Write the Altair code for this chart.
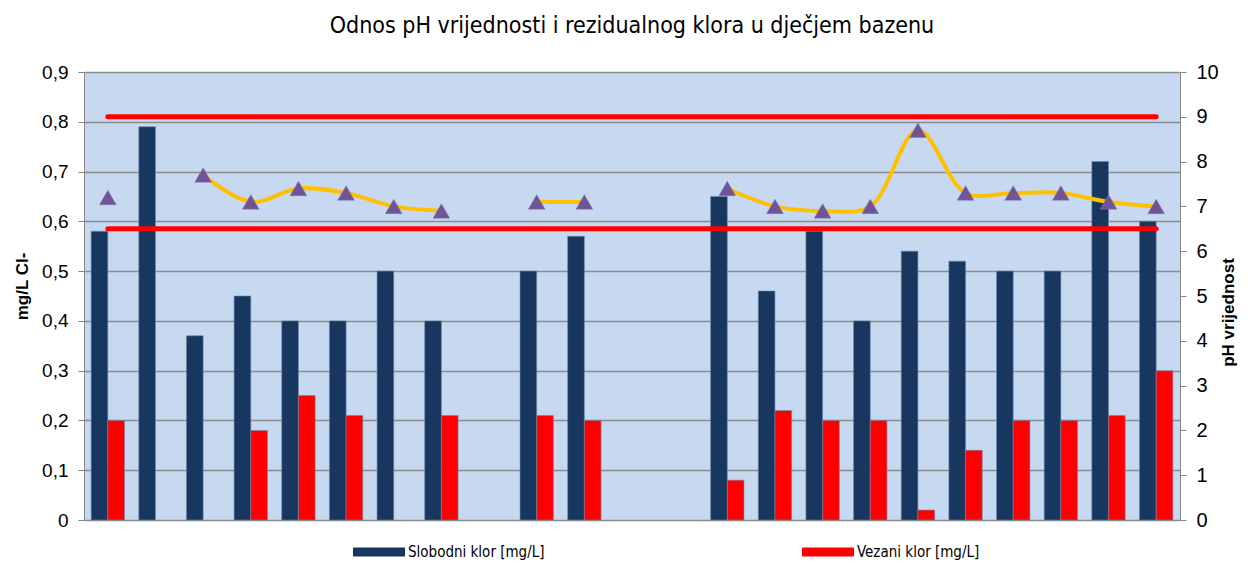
import altair as alt
import pandas as pd

# ---- data ----
categories = [str(i) for i in range(1, 24)]
slobodni = [0.58, 0.79, 0.37, 0.45, 0.40, 0.40, 0.50, 0.40, None, 0.50, 0.57, None, None,
            0.65, 0.46, 0.58, 0.40, 0.54, 0.52, 0.50, 0.50, 0.72, 0.60]
vezani = [0.20, None, None, 0.18, 0.25, 0.21, None, 0.21, None, 0.21, 0.20, None, None,
          0.08, 0.22, 0.20, 0.20, 0.02, 0.14, 0.20, 0.20, 0.21, 0.30]
ph = [7.2, None, 7.7, 7.1, 7.4, 7.3, 7.0, 6.9, None, 7.1, 7.1, None, None,
      7.4, 7.0, 6.9, 7.0, 8.7, 7.3, 7.3, 7.3, 7.1, 7.0]
ph_limits = [6.5, 9.0]

series_names = ["Slobodni klor [mg/L]", "Vezani klor [mg/L]"]
series_colors = ["#17375E", "#FF0000"]

# ---- tables ----
bar_rows = []
for c, s, v in zip(categories, slobodni, vezani):
    if s is not None:
        bar_rows.append({"Cat": c, "Serija": series_names[0], "Vrijednost": s})
    if v is not None:
        bar_rows.append({"Cat": c, "Serija": series_names[1], "Vrijednost": v})
bars_df = pd.DataFrame(bar_rows)

ph_df = pd.DataFrame({"Cat": categories, "pH": ph})
ph_df["seg"] = ph_df["pH"].isna().cumsum()
ph_df = ph_df.dropna(subset=["pH"])

lim_df = pd.DataFrame([{"Cat": c, "lim": str(l), "pH": l} for l in ph_limits for c in categories])

FONT = "DejaVu Sans Condensed, Liberation Sans Narrow, Arial Narrow, sans-serif"
LFONT = "Liberation Sans, Arial, sans-serif"

x_enc = alt.X("Cat:N", sort=categories,
              scale=alt.Scale(paddingInner=0.3, paddingOuter=0.15),
              axis=alt.Axis(labels=False, ticks=False, domain=False, title=None, grid=False))

bars = alt.Chart(bars_df).mark_bar(stroke="#6d87ab", strokeWidth=0.6).encode(
    x=x_enc,
    xOffset=alt.XOffset("Serija:N", sort=series_names, scale=alt.Scale(paddingInner=0, paddingOuter=0)),
    y=alt.Y("Vrijednost:Q", scale=alt.Scale(domain=[0, 0.9], nice=False),
            axis=alt.Axis(values=[0, 0.1, 0.2, 0.3, 0.4, 0.5, 0.6, 0.7, 0.8, 0.9],
                          labelExpr="replace(format(datum.value, '.1~f'), '.', ',')",
                          title="mg/L Cl-", titleX=-62, titleY=214, titleAngle=270,
                          titleBaseline="middle",
                          titleFont=LFONT, titleFontSize=17, titleFontWeight="bold",
                          labelFont=LFONT, labelFontSize=19, labelColor="#000000",
                          labelPadding=10, tickSize=6, tickColor="#868686",
                          domainColor="#868686", grid=True, gridColor="#8c8c8c",
                          gridWidth=1.5)),
    color=alt.Color("Serija:N", sort=series_names,
                    scale=alt.Scale(domain=series_names, range=series_colors),
                    legend=alt.Legend(title=None, orient="none", legendX=269, legendY=454,
                                      direction="horizontal", columns=2, columnPadding=257,
                                      symbolType="M-1,-0.17L1,-0.17L1,0.17L-1,0.17Z",
                                      symbolSize=2704, symbolStrokeWidth=0,
                                      labelFont=FONT, labelFontSize=15, labelOffset=3,
                                      labelColor="#000000", padding=0)),
)

y_right = alt.Y("pH:Q", scale=alt.Scale(domain=[0, 10], nice=False),
                axis=alt.Axis(orient="right", values=list(range(0, 11)), format="d",
                              title="pH vrijednost", titleX=48, titleY=240, titleAngle=270,
                              titleBaseline="middle",
                              titleFont=LFONT, titleFontSize=17, titleFontWeight="bold",
                              labelFont=LFONT, labelFontSize=20, labelColor="#000000",
                              labelPadding=10, tickSize=6, tickColor="#868686",
                              domainColor="#868686", grid=False))

limits = alt.Chart(lim_df).mark_line(color="#FF0000", strokeWidth=5, strokeCap="round").encode(
    x=alt.X("Cat:N", sort=categories), y=y_right, detail="lim:N")

ph_line = alt.Chart(ph_df).mark_line(color="#FFC000", strokeWidth=4,
                                     interpolate="catmull-rom").encode(
    x=alt.X("Cat:N", sort=categories), y=y_right, detail="seg:N")

ph_pts = alt.Chart(ph_df).mark_point(shape="triangle-up", filled=True, size=280,
                                     color="#6F5597", opacity=1,
                                     stroke="#8a76ad", strokeWidth=0.5).encode(
    x=alt.X("Cat:N", sort=categories), y=y_right)

right = alt.layer(limits, ph_line, ph_pts)

chart = alt.layer(bars, right).resolve_scale(y="independent").properties(
    width=1096, height=448,
    title=alt.TitleParams("Odnos pH vrijednosti i rezidualnog klora u dječjem bazenu",
                          font=FONT, fontSize=23, fontWeight="normal", color="#000000",
                          anchor="middle", offset=24),
    autosize=alt.AutoSizeParams(type="none"),
    padding={"left": 76, "top": 64, "right": 60, "bottom": 40},
).configure(background="#FFFFFF").configure_view(fill="#C6D9F1", stroke=None)

chart.save("out.html", embed_options={"renderer": "svg", "actions": False})
